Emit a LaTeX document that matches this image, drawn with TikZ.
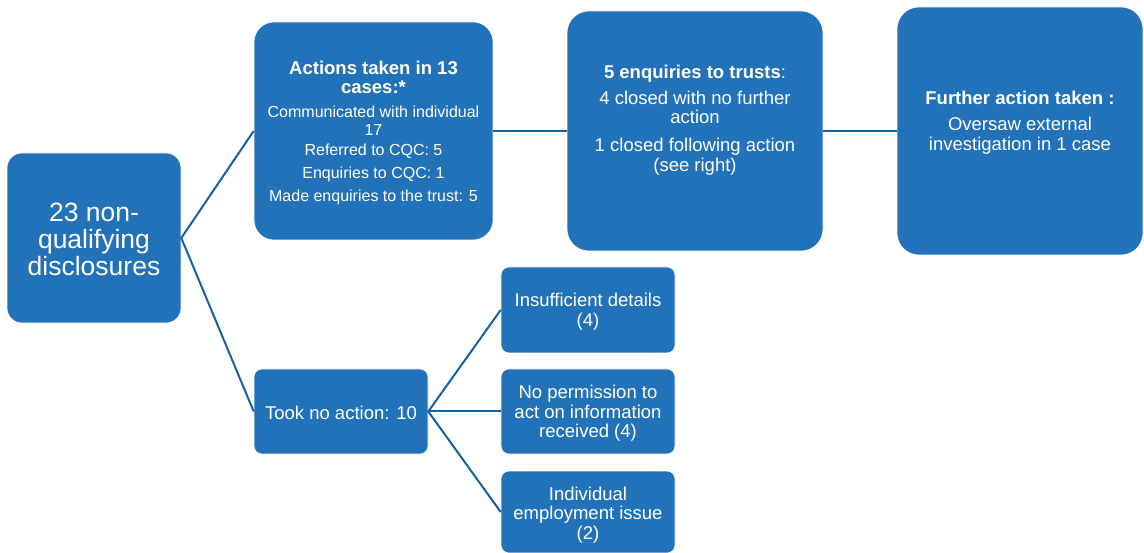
\documentclass[tikz,border=0pt]{standalone}
\usepackage{fontspec}
\setmainfont{Liberation Sans}
\definecolor{boxblue}{RGB}{34,114,186}
\definecolor{lineblue}{RGB}{22,96,166}
\tikzset{
  box/.style={draw=white, line width=0.6pt, fill=boxblue, text=white, align=center, inner sep=0pt},
  smallbox/.style={box, minimum width=174pt, minimum height=85pt, rounded corners=8pt},
  bodytext/.style={text=white, align=center, inner sep=0pt, font=\fontsize{18.5}{19.5}\selectfont},
  link/.style={draw=lineblue, line width=2pt},
}
\begin{document}
\begin{tikzpicture}[x=1pt,y=-1pt]
\useasboundingbox (0,0) rectangle (1144,553);

\node[box, minimum width=174pt, minimum height=170pt, rounded corners=15pt] (disc) at (94,238) {};
\node[bodytext, font=\fontsize{26.5}{27}\selectfont] (disct) at (94,239.5) {23 non-\\qualifying\\disclosures};

\node[box, minimum width=239pt, minimum height=218pt, rounded corners=20pt] (acts) at (373.5,131) {};
\node[bodytext, font=\fontsize{16}{18.5}\selectfont] (actst) at (373.5,133) {{\bfseries\fontsize{18.5}{19}\selectfont Actions taken in 13}\\{\bfseries\fontsize{18.5}{19}\selectfont cases:*}\\[5.5pt]Communicated with individual\\17\\[1.5pt]Referred to CQC: 5\\[4pt]Enquiries to CQC: 1\\[5pt]Made enquiries to the trust: 5};

\node[box, minimum width=256pt, minimum height=240pt, rounded corners=22pt] (trusts) at (695,131) {};
\node[bodytext] (trustst) at (695,120) {\textbf{5 enquiries to trusts}:\\[6.5pt]4 closed with no further\\action\\[8.5pt]1 closed following action\\(see right)};

\node[box, minimum width=246pt, minimum height=248pt, rounded corners=22pt] (further) at (1020,131) {};
\node[bodytext] (furthert) at (1020,122.5) {\textbf{Further action taken :}\\[6.5pt]Oversaw external\\investigation in 1 case};

\node[smallbox] (noact) at (341,411.5) {};
\node[bodytext] (noactt) at (341,412.5) {Took no action: 10};

\node[smallbox, minimum height=86pt] (insuf) at (588,310) {};
\node[bodytext] (insuft) at (588,311.5) {Insufficient details\\(4)};
\node[smallbox] (perm) at (588,411.5) {};
\node[bodytext] (permt) at (588,413.5) {No permission to\\act on information\\received (4)};
\node[smallbox, minimum height=82pt] (employ) at (588,512) {};
\node[bodytext] (employt) at (588,515) {Individual\\employment issue\\(2)};

\draw[link] (acts.west) -- (disc.east) -- (noact.west);
\draw[link] (acts.east) -- (trusts.west);
\draw[link] (trusts.east) -- (further.west);
\draw[link] (insuf.west) -- (noact.east) -- (employ.west);
\draw[link] (noact.east) -- (perm.west);
\end{tikzpicture}
\end{document}
